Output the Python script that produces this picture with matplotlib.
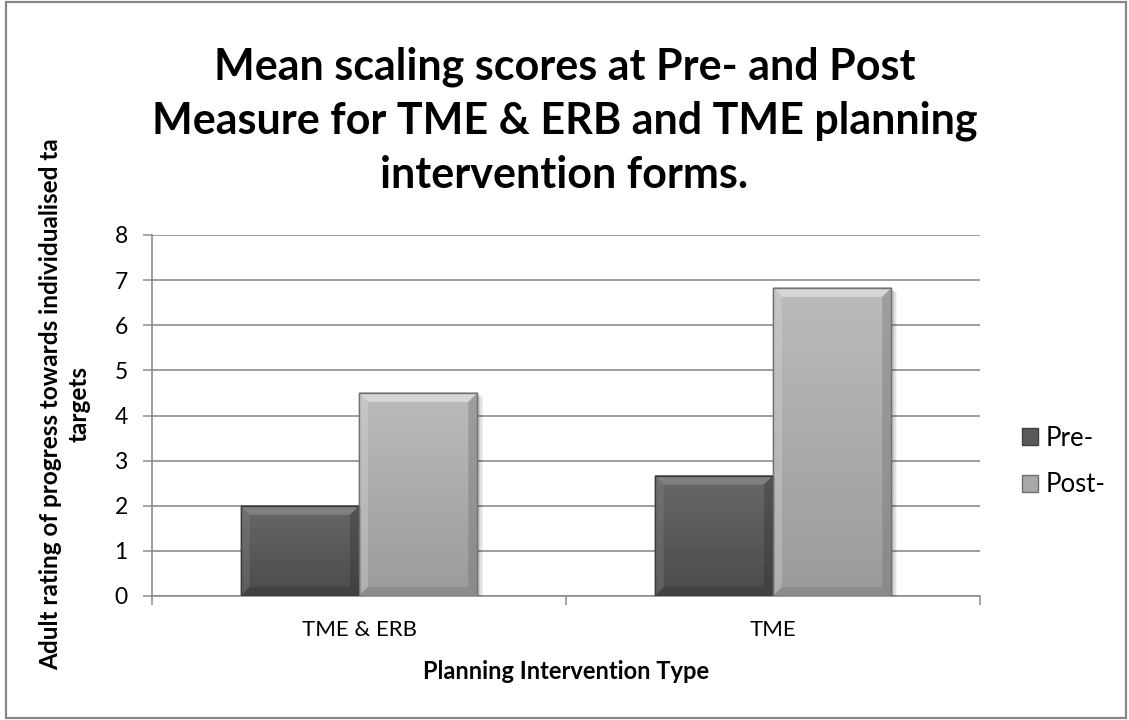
import numpy as np
import matplotlib.pyplot as plt
from matplotlib.colors import to_rgb
from matplotlib.patches import Polygon, Rectangle

plt.rcParams['font.family'] = ['Lato', 'DejaVu Sans']

categories = ['TME & ERB', 'TME']
pre_scores = [2.0, 2.67]
post_scores = [4.5, 6.83]
series_names = ['Pre-', 'Post-']
y_ticks = [0, 1, 2, 3, 4, 5, 6, 7, 8]

W, H = 1129, 720
fig = plt.figure(figsize=(W / 100, H / 100), dpi=100)
# chart border
fig.patches.append(Rectangle((6 / W, 2 / H), 1120 / W, 716 / H, transform=fig.transFigure,
                             fill=False, edgecolor='#868686', linewidth=1.6))
ax = fig.add_axes([152 / W, 1 - 596 / H, 828 / W, 361 / H])
ax.set_xlim(-0.5, 1.5)
ax.set_ylim(0, 8)

x = np.arange(len(categories))
w = 1 / 3.5
bars_pre = ax.bar(x - w / 2, pre_scores, w, color='#595959', edgecolor='#404040', linewidth=1, zorder=3)
bars_post = ax.bar(x + w / 2, post_scores, w, color='#a8a8a8', edgecolor='#6e6e6e', linewidth=1, zorder=3)

# data units per pixel
ux = 2.0 / 828
uy = 8.0 / 361


def bevel(bars, top, bottom, light, dark, edge):
    # gradient fill and bevelled edges, taken from each bar's own geometry
    for b in bars:
        x0, y0 = b.get_x(), b.get_y()
        bw, bh = b.get_width(), b.get_height()
        # soft drop shadow
        for k, a in [(4, 0.05), (3, 0.07), (2, 0.09)]:
            ax.add_patch(Rectangle((x0 + k * ux * 0.5, y0 - k * uy), bw + k * ux, bh,
                                   facecolor='black', edgecolor='none', alpha=a, zorder=2.9))
        grad = np.linspace(0, 1, 100).reshape(-1, 1)
        c0 = np.array(to_rgb(top))
        c1 = np.array(to_rgb(bottom))
        img = (c1 + (c0 - c1) * grad).reshape(100, 1, 3)
        ax.imshow(img, extent=(x0, x0 + bw, y0, y0 + bh), origin='lower', aspect='auto', zorder=3.1)
        dx = 9 * ux
        dy = 9 * uy
        # top bevel
        ax.add_patch(Polygon([(x0, y0 + bh), (x0 + bw, y0 + bh), (x0 + bw - dx, y0 + bh - dy), (x0 + dx, y0 + bh - dy)],
                             closed=True, facecolor=light, edgecolor='none', alpha=0.75, zorder=3.2))
        # left bevel
        ax.add_patch(Polygon([(x0, y0), (x0, y0 + bh), (x0 + dx, y0 + bh - dy), (x0 + dx, y0 + dy)],
                             closed=True, facecolor=light, edgecolor='none', alpha=0.3, zorder=3.2))
        # right bevel
        ax.add_patch(Polygon([(x0 + bw, y0), (x0 + bw, y0 + bh), (x0 + bw - dx, y0 + bh - dy), (x0 + bw - dx, y0 + dy)],
                             closed=True, facecolor=dark, edgecolor='none', alpha=0.35, zorder=3.2))
        # bottom bevel
        ax.add_patch(Polygon([(x0, y0), (x0 + bw, y0), (x0 + bw - dx, y0 + dy), (x0 + dx, y0 + dy)],
                             closed=True, facecolor=dark, edgecolor='none', alpha=0.3, zorder=3.2))
        ax.add_patch(Rectangle((x0, y0), bw, bh, fill=False, edgecolor=edge, linewidth=1, zorder=3.3))


bevel(bars_pre, '#686868', '#4b4b4b', '#8a8a8a', '#2e2e2e', '#3c3c3c')
bevel(bars_post, '#bbbbbb', '#9b9b9b', '#e0e0e0', '#6a6a6a', '#727272')

ax.set_xlim(-0.5, 1.5)
ax.set_ylim(0, 8)
ax.set_yticks(y_ticks)
ax.set_yticklabels([str(t) for t in y_ticks], fontsize=16.5)
ax.yaxis.grid(True, color='#8c8c8c', linewidth=1.2, zorder=0)
ax.set_axisbelow(True)
ax.set_xticks(x)
ax.set_xticklabels(categories, fontsize=16)
ax.tick_params(axis='x', length=0, pad=17)
ax.set_xticks([-0.5, 0.5, 1.5], minor=True)
ax.tick_params(axis='x', which='minor', length=6.5, color='#8c8c8c', width=1.1)
ax.tick_params(axis='y', length=6.5, color='#8c8c8c', width=1.1, pad=11)
for s in ['top', 'right']:
    ax.spines[s].set_visible(False)
ax.spines['left'].set_color('#8c8c8c')
ax.spines['left'].set_linewidth(1.2)
ax.spines['bottom'].set_color('#8c8c8c')
ax.spines['bottom'].set_linewidth(1.2)

ax.set_xlabel('Planning Intervention Type', fontsize=17, fontweight='bold', labelpad=15)
fig.text(65 / W, 1 - 404 / H, 'Adult rating of progress towards individualised ta\ntargets', rotation=90,
         ha='center', va='center', multialignment='center', fontsize=17.5, fontweight='bold', linespacing=1.25)

# baseline of the last title line
fig.text(0.5, 1 - 188 / H, 'Mean scaling scores at Pre- and Post\nMeasure for TME & ERB and TME planning\nintervention forms.',
         ha='center', va='baseline', fontsize=31, fontweight='bold', linespacing=1.42)

leg = ax.legend([bars_pre, bars_post], series_names, loc='center left',
                bbox_to_anchor=(1022 / W, 1 - 461.5 / H), bbox_transform=fig.transFigure,
                frameon=False, fontsize=18.5, handlelength=0.62, handleheight=0.62, handletextpad=0.3,
                labelspacing=0.85, borderpad=0, borderaxespad=0)

fig.savefig('out.png', dpi=100)
